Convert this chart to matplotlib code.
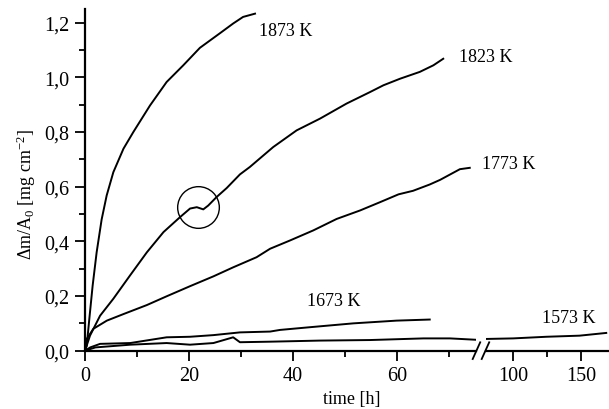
import numpy as np
import matplotlib
matplotlib.use("Agg")
import matplotlib.pyplot as plt
from matplotlib.lines import Line2D

plt.rcParams['font.family'] = ['Liberation Serif', 'DejaVu Serif']
plt.rcParams['mathtext.fontset'] = 'custom'
plt.rcParams['mathtext.rm'] = 'Liberation Serif'
plt.rcParams['mathtext.it'] = 'Liberation Serif:italic'

# mass gain curves (time [h], dm/A0 [mg cm^-2])
t_1873 = [0, 0.33, 0.83, 1.47, 2.24, 3.2, 4.17, 5.45, 7.4, 9.3, 12.5, 15.7, 18.9, 22.1, 26.0, 28.5, 30.4, 32.7]
m_1873 = [0, 0.018, 0.116, 0.238, 0.36, 0.48, 0.568, 0.653, 0.739, 0.80, 0.897, 0.983, 1.044, 1.108, 1.162, 1.197, 1.221, 1.233]

t_1823 = [0, 0.96, 2.9, 5.45, 8.65, 11.9, 15.1, 18.3, 20.2, 21.5, 22.75, 23.7, 25.3, 27.25, 29.8, 31.7,
          36.2, 40.7, 45.2, 50.3, 54.8, 57.4, 60.6, 64.4, 67.0, 68.9]
m_1823 = [0, 0.055, 0.128, 0.19, 0.275, 0.36, 0.434, 0.489, 0.52, 0.525, 0.517, 0.531, 0.562, 0.595, 0.645, 0.672,
          0.745, 0.806, 0.849, 0.904, 0.946, 0.971, 0.995, 1.02, 1.044, 1.068]

t_1773 = [0, 0.33, 1.6, 4.2, 7.4, 11.9, 15.7, 20.2, 24.7, 28.5, 33.0, 35.6, 39.4, 43.9, 48.4, 52.9, 56.7,
          60.3, 63.1, 66.3, 68.3, 72.1, 74.0]
m_1773 = [0, 0.043, 0.08, 0.11, 0.134, 0.167, 0.199, 0.236, 0.272, 0.305, 0.342, 0.373, 0.403, 0.44, 0.482, 0.513, 0.543,
          0.572, 0.585, 0.608, 0.625, 0.664, 0.669]

t_1673 = [0, 1.0, 2.9, 8.7, 15.7, 20.2, 24.7, 29.8, 35.6, 37.5, 43.3, 51.6, 59.9, 66.3]
m_1673 = [0, 0.012, 0.025, 0.028, 0.049, 0.051, 0.057, 0.067, 0.07, 0.076, 0.086, 0.10, 0.11, 0.114]

t_1573 = [0, 2.0, 8.7, 15.7, 20.2, 24.7, 28.5, 29.8, 35.6, 45.2, 54.8, 65.1, 70.2, 75.2]
m_1573 = [0, 0.012, 0.022, 0.028, 0.022, 0.028, 0.049, 0.031, 0.033, 0.037, 0.039, 0.045, 0.045, 0.040]

t_1573_long = [80.4, 100, 124.6, 149, 168.7]
m_1573_long = [0.043, 0.045, 0.051, 0.055, 0.065]

# curve labels (text, x, y)
labels_left = [("1873 K", 33.5, 1.172), ("1823 K", 72.0, 1.075), ("1773 K", 76.3, 0.684), ("1673 K", 42.7, 0.182)]
labels_right = [("1573 K", 121.2, 0.12)]

y_ticks = [0.0, 0.2, 0.4, 0.6, 0.8, 1.0, 1.2]
y_ticklabels = ["0,0", "0,2", "0,4", "0,6", "0,8", "1,0", "1,2"]
x_ticks_left = [0, 20, 40, 60]
x_ticks_right = [100, 150]

circle_center = (21.8, 0.525)

W, H = 609, 410
fig = plt.figure(figsize=(W / 100, H / 100), dpi=100)
axl = fig.add_axes([85 / W, 58.3 / H, 391 / W, 341.7 / H])
axr = fig.add_axes([486 / W, 58.3 / H, 122 / W, 341.7 / H], sharey=axl)
axr.patch.set_visible(False)

lw = 1.4
for t, m in [(t_1873, m_1873), (t_1823, m_1823), (t_1773, m_1773), (t_1673, m_1673), (t_1573, m_1573)]:
    axl.plot(t, m, color='black', lw=lw)
axr.plot(t_1573_long, m_1573_long, color='black', lw=lw)

# the marked step on the 1823 K curve
axl.plot(*circle_center, marker='o', ms=30, mfc='none', mec='black', mew=1.0)

axl.set_xlim(0, 75.2)
axr.set_xlim(80, 170)
axl.set_ylim(0, 1.25)

for ax in (axl, axr):
    ax.spines['top'].set_visible(False)
    ax.spines['right'].set_visible(False)
    ax.spines['bottom'].set_linewidth(1.6)
    ax.tick_params(axis='both', which='major', direction='out', length=7, width=1.3,
                   labelsize=14.5, pad=4)
    ax.tick_params(axis='both', which='minor', direction='out', length=4, width=1.3)

axl.spines['left'].set_linewidth(1.6)
axr.spines['left'].set_visible(False)
axr.tick_params(axis='y', which='both', left=False, labelleft=False)

axl.set_yticks(y_ticks)
axl.set_yticklabels(y_ticklabels)
axl.set_yticks(np.arange(0.1, 1.25, 0.2), minor=True)
axl.set_xticks(x_ticks_left)
axl.set_xticks([10, 30, 50, 70], minor=True)
axr.set_xticks(x_ticks_right)
axr.set_xticks([125], minor=True)

for txt, x, y in labels_left:
    axl.text(x, y, txt, fontsize=13, va='center', ha='left', clip_on=False, zorder=5)
for txt, x, y in labels_right:
    axr.text(x, y, txt, fontsize=13, va='center', ha='left', clip_on=False)

# axis break marks
for x0 in (472.7, 481.7):
    fig.add_artist(Line2D([x0 / W, (x0 + 7.5) / W], [(H - 360) / H, (H - 343.3) / H],
                          color='black', lw=1.3))

fig.text(352 / W, 1 - 400 / H, "time [h]", fontsize=13, ha='center', va='center')
fig.text(26 / W, 1 - 194 / H, r"$\Delta$m/A$_0$ [mg cm$^{-2}$]", fontsize=13,
         rotation=90, ha='center', va='center')

fig.savefig("out.png", dpi=100)
